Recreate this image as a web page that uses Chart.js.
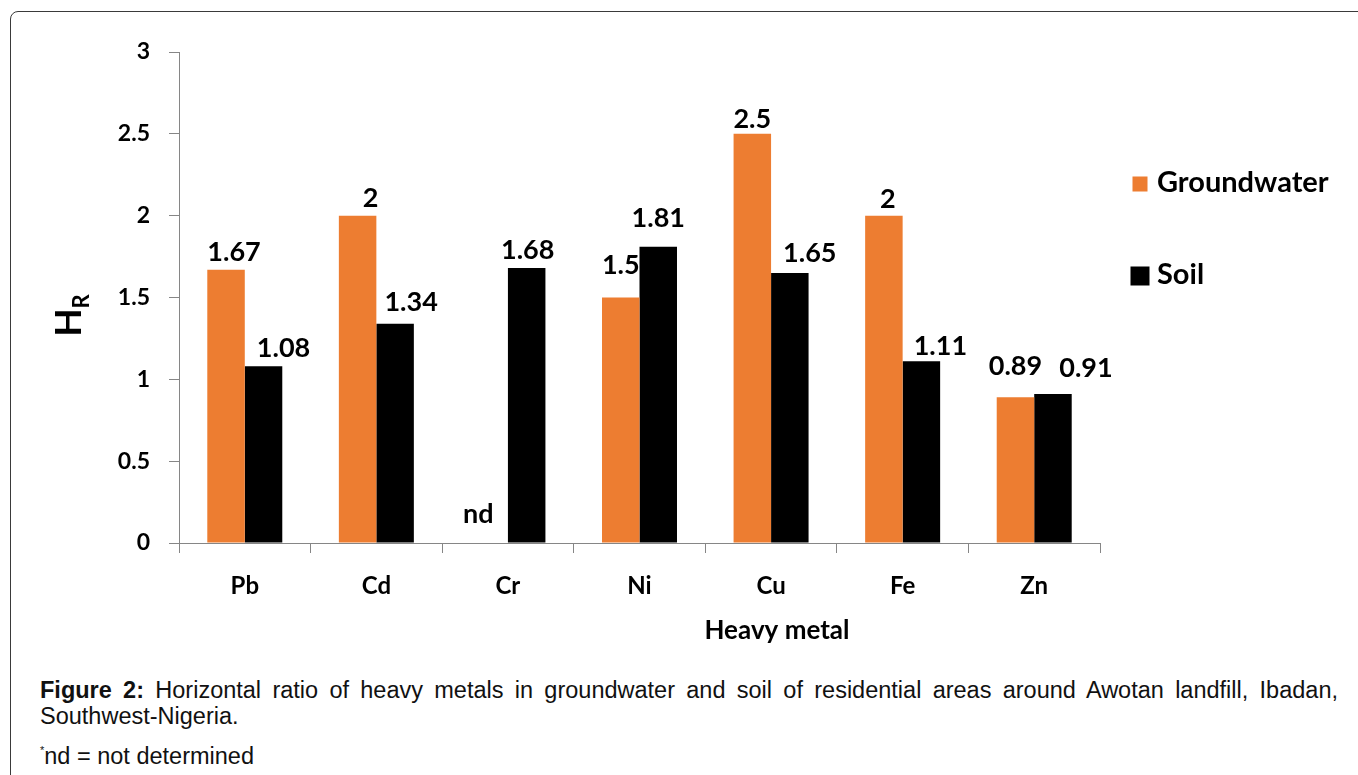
<!DOCTYPE html>
<html>
<head>
<meta charset="utf-8">
<script src="https://cdn.jsdelivr.net/npm/chart.js@4/dist/chart.umd.min.js"></script>
<style>
  html, body { margin: 0; padding: 0; background: #fff; }
  body { width: 1358px; height: 775px; position: relative; overflow: hidden; }
  .frame { position: absolute; left: 10px; top: 11px; width: 1400px; height: 820px;
           border: 1.5px solid #3a3a3a; border-radius: 8px; }
  #chart { position: absolute; left: 0; top: 0; }
  .caption { position: absolute; left: 40px; top: 677px; width: 1298px;
             font-family: "Liberation Sans", Arial, sans-serif; font-size: 23.5px; color: #111; line-height: 26px; }
  .caption .l1 { text-align: justify; text-align-last: justify; white-space: nowrap; }
  .caption .note { margin-top: 8px; }
  .caption sup { font-size: 11px; vertical-align: 10px; }
</style>
</head>
<body>
<div class="frame"></div>
<canvas id="chart" width="1358" height="660"></canvas>
<div class="caption">
  <div class="l1"><b>Figure 2:</b> Horizontal ratio of heavy metals in groundwater and soil of residential areas around Awotan landfill, Ibadan,</div>
  <div>Southwest-Nigeria.</div>
  <div class="note"><sup>*</sup>nd = not determined</div>
</div>
<script>
const categories = ['Pb', 'Cd', 'Cr', 'Ni', 'Cu', 'Fe', 'Zn'];
const groundwater = [1.67, 2, null, 1.5, 2.5, 2, 0.89];
const soil = [1.08, 1.34, 1.68, 1.81, 1.65, 1.11, 0.91];
const groundwaterLabels = ['1.67', '2', 'nd', '1.5', '2.5', '2', '0.89'];
const soilLabels = ['1.08', '1.34', '1.68', '1.81', '1.65', '1.11', '0.91'];
const yTickLabels = ['0', '0.5', '1', '1.5', '2', '2.5', '3'];

// labels in the figure were nudged by hand, offsets in px
const gwNudge = [[8, 0], [13, 0], [-11, -12], [0, -15], [0, 2], [4, 1], [0, -14]];
const soilNudge = [[20, -1], [16, -4], [1, -1], [0, -11], [20, -3], [19, 2], [33, -9]];

Chart.defaults.font.family = 'Lato';
Chart.defaults.color = '#000';

function drawLabels(chart, index, texts, nudge) {
    const ctx = chart.ctx;
    const meta = chart.getDatasetMeta(index);
    const zero = chart.scales.y.getPixelForValue(0);
    ctx.save();
    ctx.font = 'bold 27px Lato';
    ctx.fillStyle = '#000';
    ctx.textAlign = 'center';
    ctx.textBaseline = 'middle';
    meta.data.forEach((bar, i) => {
        const top = isNaN(bar.y) || chart.data.datasets[index].data[i] == null ? zero : bar.y;
        ctx.fillText(texts[i], bar.x + nudge[i][0], top - 17 + nudge[i][1]);
    });
    ctx.restore();
}

const extras = {
    id: 'extras',
    // groundwater labels go under the soil bars, like the "1.5" on Ni
    beforeDatasetsDraw(chart) { drawLabels(chart, 0, groundwaterLabels, gwNudge); },
    afterDatasetsDraw(chart) { drawLabels(chart, 1, soilLabels, soilNudge); },
    afterDraw(chart) {
        const { ctx, chartArea: a } = chart;
        const midY = (a.top + a.bottom) / 2;

        // y title: H with subscript R
        ctx.save();
        ctx.fillStyle = '#000';
        ctx.translate(a.left - 110, midY + 25);
        ctx.rotate(-Math.PI / 2);
        ctx.textAlign = 'center';
        ctx.textBaseline = 'middle';
        ctx.font = 'bold 37px Lato';
        ctx.fillText('H', 0, 0);
        ctx.font = 'bold 22px Lato';
        ctx.fillText('R', 21, 13);
        ctx.restore();

        // x title
        ctx.save();
        ctx.fillStyle = '#000';
        ctx.textAlign = 'center';
        ctx.textBaseline = 'middle';
        ctx.font = 'bold 26px Lato';
        ctx.fillText('Heavy metal', a.left + 598, a.bottom + 88);
        ctx.restore();

        // legend
        ctx.save();
        ctx.textBaseline = 'middle';
        ctx.font = 'bold 29px Lato';
        chart.data.datasets.forEach((ds, i) => {
            const y = a.top + 132 + i * 92;
            const s = i === 0 ? 15 : 19;
            ctx.fillStyle = ds.backgroundColor;
            ctx.fillRect(a.right + 40 - s / 2, y - s / 2, s, s);
            ctx.fillStyle = '#000';
            ctx.fillText(ds.label, a.right + 57, y - 1);
        });
        ctx.restore();
    }
};

new Chart(document.getElementById('chart').getContext('2d'), {
    type: 'bar',
    data: {
        labels: categories,
        datasets: [
            { label: 'Groundwater', data: groundwater, backgroundColor: '#ED7D31', borderWidth: 0 },
            { label: 'Soil', data: soil, backgroundColor: '#000000', borderWidth: 0 }
        ]
    },
    options: {
        responsive: false,
        animation: false,
        devicePixelRatio: 1,
        layout: { padding: { left: 0, top: 52, right: 258, bottom: 0 } },
        datasets: { bar: { categoryPercentage: 0.57, barPercentage: 1 } },
        plugins: { legend: { display: false }, tooltip: { enabled: false } },
        scales: {
            x: {
                grid: { offset: true, drawOnChartArea: false, tickLength: 10, color: '#868686' },
                border: { color: '#868686' },
                ticks: { font: { size: 24, weight: 'bold' }, padding: 19 },
                afterFit: s => { s.height = 117; }
            },
            y: {
                min: 0, max: 3,
                grid: { drawOnChartArea: false, tickLength: 10, color: '#868686' },
                border: { color: '#868686' },
                ticks: { stepSize: 0.5, callback: (v, i) => yTickLabels[i], font: { size: 23, weight: 'bold' }, padding: 19 },
                afterFit: s => { s.width = 179; }
            }
        }
    },
    plugins: [extras]
});
</script>
</body>
</html>
